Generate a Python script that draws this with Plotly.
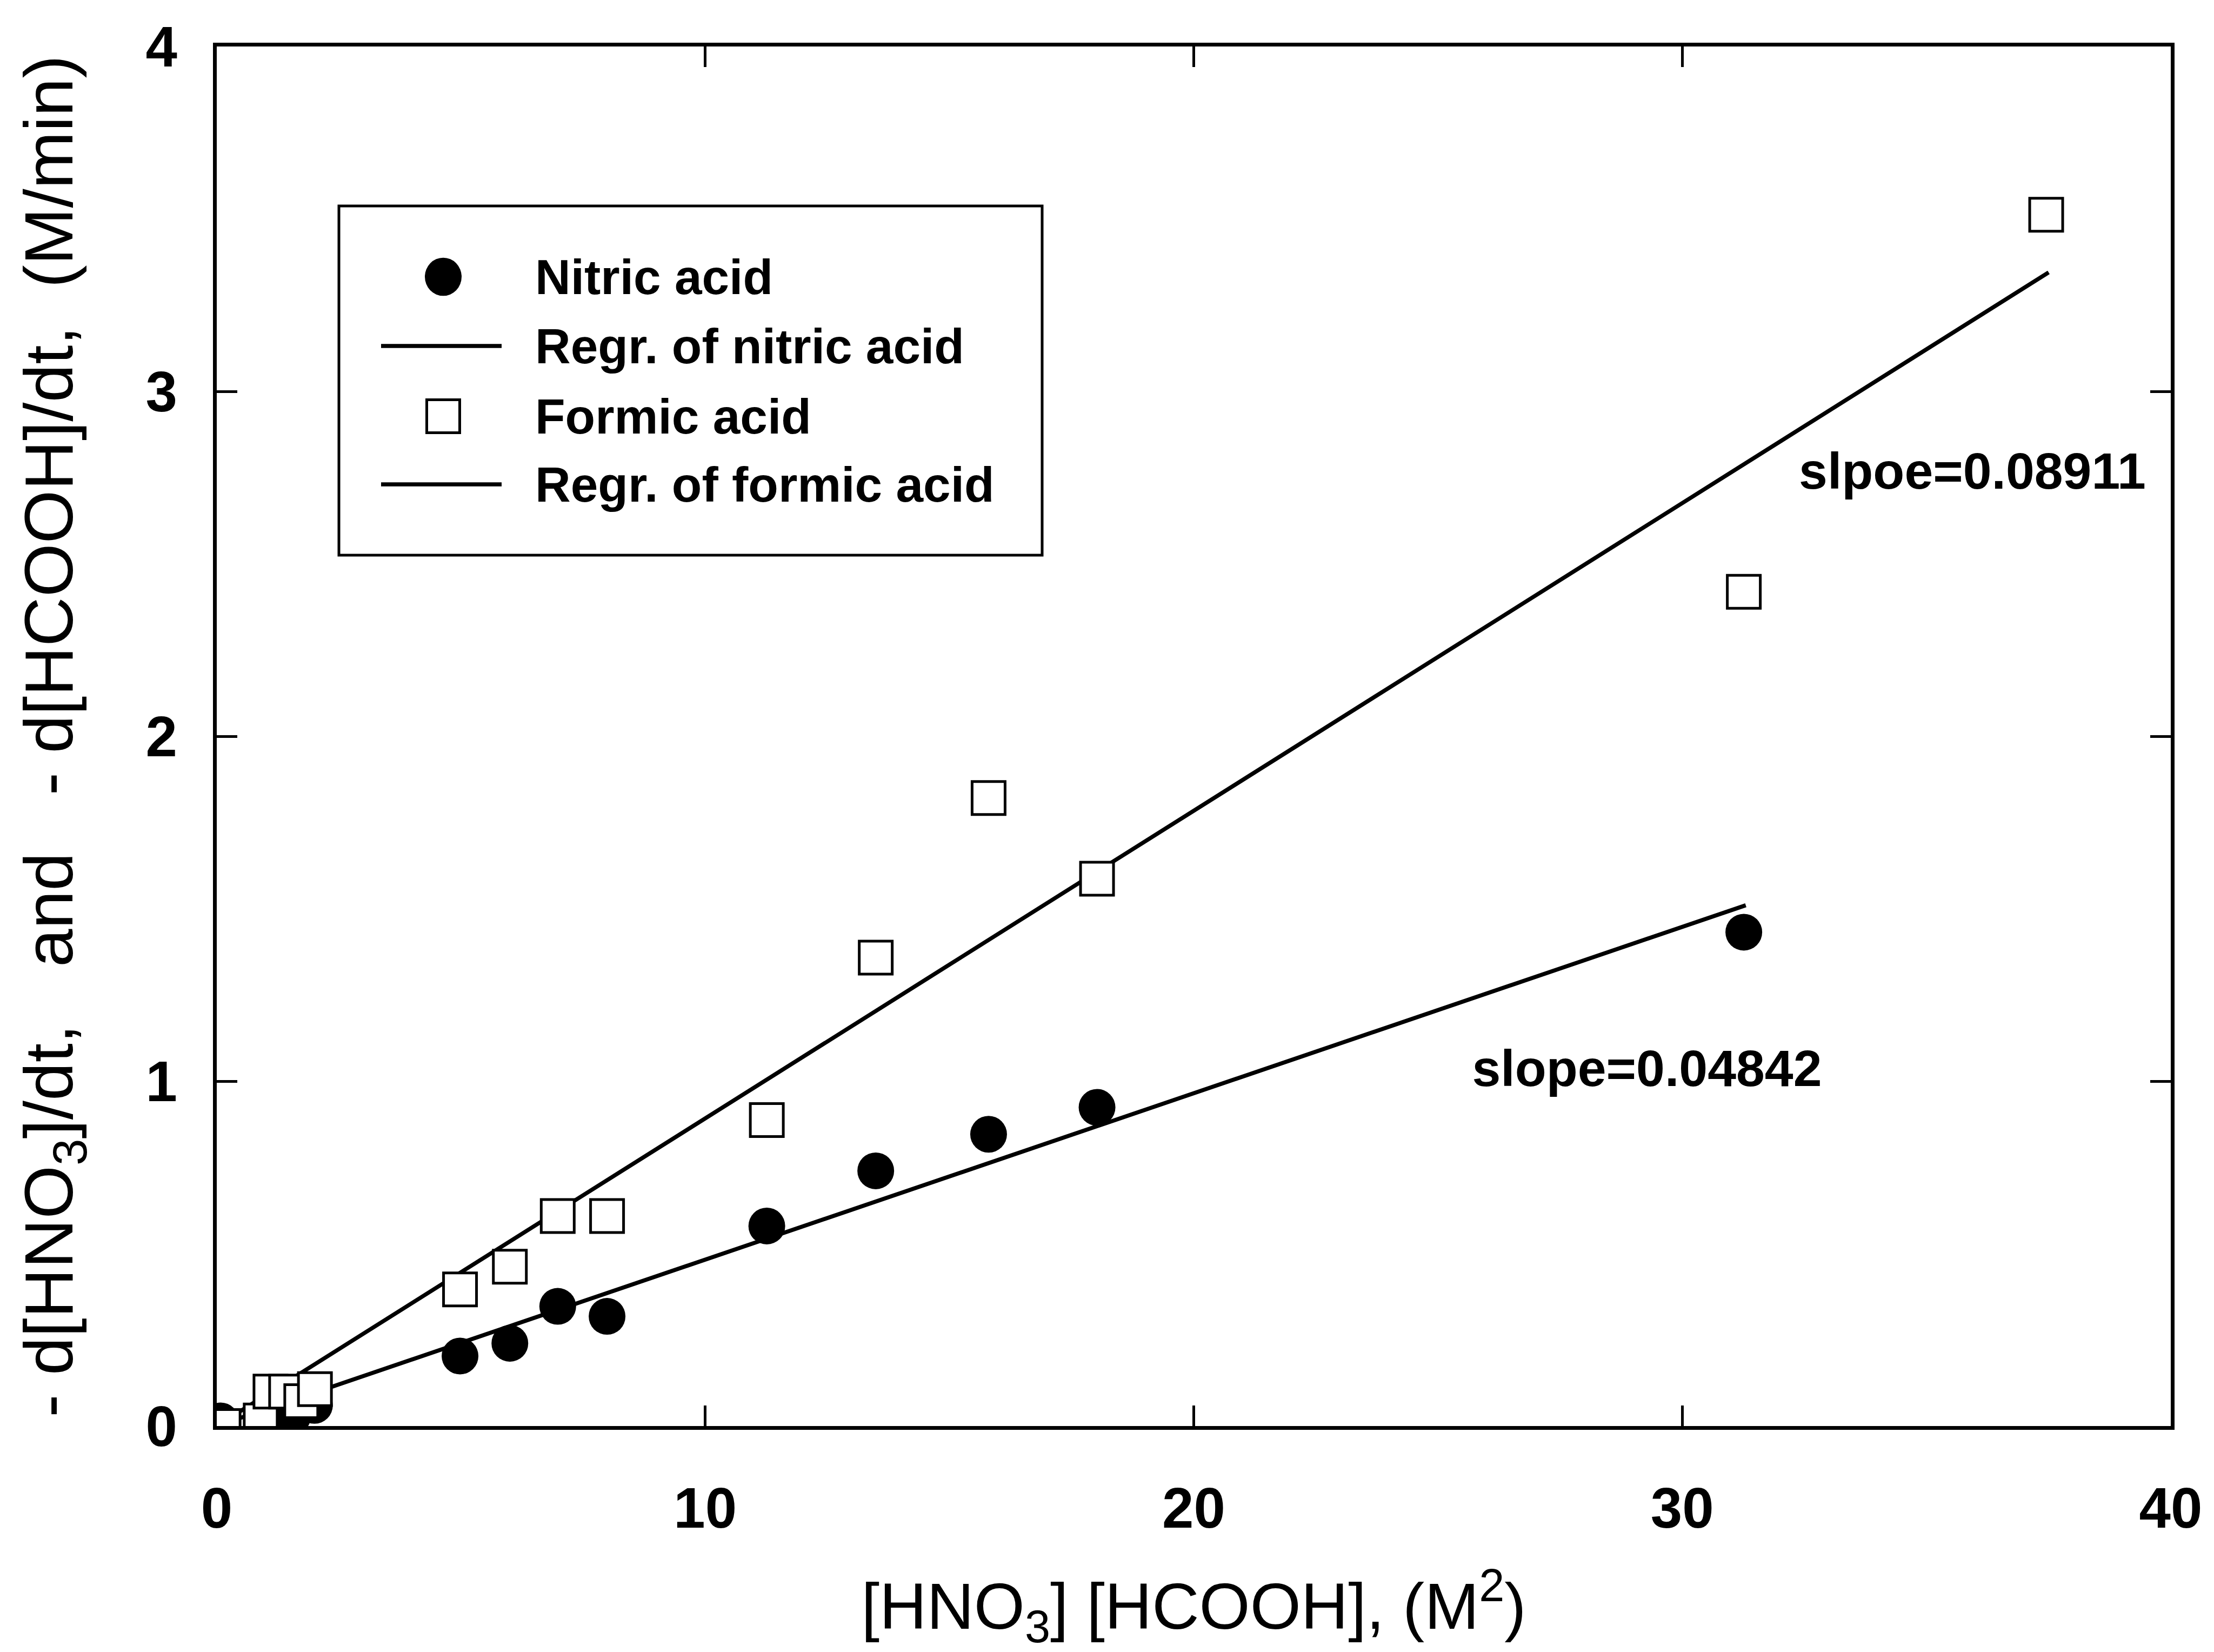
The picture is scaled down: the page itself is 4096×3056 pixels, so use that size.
import plotly.graph_objects as go

# ---------------- data ----------------
nitric_x = [0.08, 0.98, 1.20, 1.55, 2.00, 4.98, 6.00, 6.98, 7.99, 11.26, 13.49, 15.80, 18.02, 31.26]
nitric_y = [0.015, 0.010, 0.030, 0.028, 0.060, 0.203, 0.240, 0.347, 0.318, 0.580, 0.740, 0.846, 0.924, 1.432]

formic_x = [0.14, 0.90, 1.10, 1.42, 1.73, 2.01, 4.98, 6.00, 6.98, 7.99, 11.26, 13.49, 15.80, 18.02, 31.26, 37.45]
formic_y = [0.000, 0.016, 0.100, 0.100, 0.072, 0.107, 0.396, 0.462, 0.609, 0.609, 0.887, 1.358, 1.821, 1.587, 2.419, 3.512]

nitric_fit_x = [0.10, 31.30]
nitric_fit_y = [0.005, 1.510]
formic_fit_x = [0.10, 37.50]
formic_fit_y = [0.009, 3.345]

x_ticks = [0, 10, 20, 30, 40]
y_ticks = [0, 1, 2, 3, 4]

legend_labels = ["Nitric acid", "Regr. of nitric acid", "Formic acid", "Regr. of formic acid"]
slope_labels = ["slope=0.04842", "slpoe=0.08911"]

x_title = "[HNO<sub>3</sub>] [HCOOH], (M<sup>2</sup>)"
y_title = "- d[HNO<sub>3</sub>]/dt,\u00a0\u00a0 and\u00a0\u00a0 - d[HCOOH]/dt,\u00a0 (M/min)"

# ---------------- style ----------------
FONT = "Arial, Liberation Sans, sans-serif"
BLACK = "#000000"
W, H = 4096, 3056
ML, MR, MT, MB = 401, 80, 86, 418
PW, PH = W - ML - MR, H - MT - MB
X_RANGE = [0, 40]
Y_RANGE = [0, 4]

CIRCLE_SIZE = 68
SQUARE_SIZE = 61
SQUARE_LW = 5
FIT_LW = 7.5


def px_to_paper(px, py):
    return (px - ML) / PW, (H - MB - py) / PH


def px_to_data(px, py):
    fx, fy = px_to_paper(px, py)
    return (X_RANGE[0] + fx * (X_RANGE[1] - X_RANGE[0]),
            Y_RANGE[0] + fy * (Y_RANGE[1] - Y_RANGE[0]))


fig = go.Figure()

# regression lines
fig.add_trace(go.Scatter(x=nitric_fit_x, y=nitric_fit_y, mode="lines",
                         line=dict(color=BLACK, width=FIT_LW), name=legend_labels[1],
                         showlegend=False, hoverinfo="skip"))
fig.add_trace(go.Scatter(x=formic_fit_x, y=formic_fit_y, mode="lines",
                         line=dict(color=BLACK, width=FIT_LW), name=legend_labels[3],
                         showlegend=False, hoverinfo="skip"))
# nitric acid points
fig.add_trace(go.Scatter(x=nitric_x, y=nitric_y, mode="markers", name=legend_labels[0],
                         marker=dict(symbol="circle", size=CIRCLE_SIZE, color=BLACK,
                                     line=dict(width=0)),
                         showlegend=False))
# formic acid points
fig.add_trace(go.Scatter(x=formic_x, y=formic_y, mode="markers", name=legend_labels[2],
                         marker=dict(symbol="square", size=SQUARE_SIZE, color="white",
                                     line=dict(width=SQUARE_LW, color=BLACK)),
                         showlegend=False))

# ---------------- hand-built legend ----------------
row_y_px = [512, 640, 770, 896]
sym_cx_px = 820
line_x0_px, line_x1_px = 705, 928
text_x_px = 990
text_dy_px = 9

sx, _ = px_to_paper(sym_cx_px, 0)
lx0, _ = px_to_paper(line_x0_px, 0)
lx1, _ = px_to_paper(line_x1_px, 0)
rows = [px_to_paper(0, py)[1] for py in row_y_px]

bx0, by1 = px_to_paper(627, 381)
bx1, by0 = px_to_paper(1928, 1027)
shapes = [dict(type="rect", xref="paper", yref="paper", x0=bx0, x1=bx1, y0=by0, y1=by1,
               line=dict(color=BLACK, width=5), fillcolor="rgba(0,0,0,0)")]

r_c = CIRCLE_SIZE / 2
shapes.append(dict(type="circle", xref="paper", yref="paper",
                   xsizemode="pixel", ysizemode="pixel", xanchor=sx, yanchor=rows[0],
                   x0=-r_c, x1=r_c, y0=-r_c * 1.04, y1=r_c * 1.04,
                   fillcolor=BLACK, line=dict(width=0)))
r_s = SQUARE_SIZE / 2
shapes.append(dict(type="rect", xref="paper", yref="paper",
                   xsizemode="pixel", ysizemode="pixel", xanchor=sx, yanchor=rows[2],
                   x0=-r_s, x1=r_s, y0=-r_s, y1=r_s,
                   fillcolor="white", line=dict(width=SQUARE_LW, color=BLACK)))
for ri in (1, 3):
    shapes.append(dict(type="line", xref="paper", yref="paper", x0=lx0, x1=lx1,
                       y0=rows[ri], y1=rows[ri], line=dict(color=BLACK, width=FIT_LW)))

# legend texts as a text trace
leg_pts = [px_to_data(text_x_px, py + text_dy_px) for py in row_y_px]
fig.add_trace(go.Scatter(x=[p[0] for p in leg_pts], y=[p[1] for p in leg_pts],
                         mode="text", text=legend_labels, textposition="middle right",
                         textfont=dict(family=FONT, size=91, color=BLACK, weight="bold"),
                         showlegend=False, hoverinfo="skip", cliponaxis=False))

# slope labels as a text trace
slope_pts = [px_to_data(3047, 1985), px_to_data(3649, 880)]
fig.add_trace(go.Scatter(x=[p[0] for p in slope_pts], y=[p[1] for p in slope_pts],
                         mode="text", text=slope_labels, textposition="middle center",
                         textfont=dict(family=FONT, size=95, color=BLACK, weight="bold"),
                         showlegend=False, hoverinfo="skip", cliponaxis=False))

axis_common = dict(showline=True, linewidth=7, linecolor=BLACK, mirror="ticks",
                   ticks="inside", ticklen=38, tickwidth=5, tickcolor=BLACK,
                   showgrid=False, zeroline=False,
                   tickfont=dict(family=FONT, size=105, color=BLACK, weight="bold"))

fig.update_layout(
    width=W, height=H,
    margin=dict(l=ML, r=MR, t=MT, b=MB, autoexpand=False),
    paper_bgcolor="white", plot_bgcolor="white",
    showlegend=False,
    xaxis=dict(range=X_RANGE, tickvals=x_ticks, ticktext=[str(v) for v in x_ticks],
               ticklabelstandoff=55,
               title=dict(text=x_title, font=dict(family=FONT, size=121, color=BLACK), standoff=110),
               **axis_common),
    yaxis=dict(range=Y_RANGE, tickvals=y_ticks, ticktext=[str(v) for v in y_ticks],
               ticklabelstandoff=45,
               title=dict(text=y_title, font=dict(family=FONT, size=127, color=BLACK), standoff=95),
               **axis_common),
    shapes=shapes,
)

fig.write_html("out.html")
